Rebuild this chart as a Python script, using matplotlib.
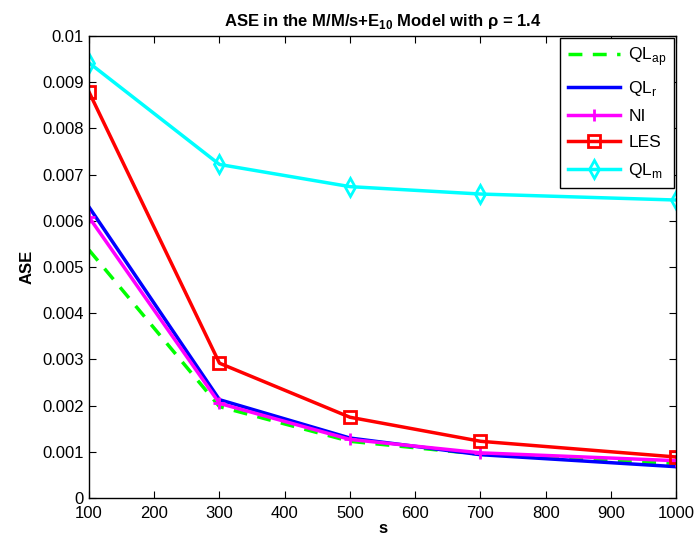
import matplotlib
matplotlib.use("Agg")
import matplotlib.pyplot as plt

plt.rcParams['font.family'] = ['Liberation Sans', 'DejaVu Sans']
plt.rcParams['mathtext.fontset'] = 'custom'
plt.rcParams['mathtext.rm'] = 'Liberation Sans'

s = [100, 300, 500, 700, 1000]
ql_ap = [0.00537, 0.00198, 0.00123, 0.00095, 0.00075]
ql_r = [0.00630, 0.00213, 0.00130, 0.00094, 0.00068]
ni = [0.00608, 0.00205, 0.00127, 0.00098, 0.00081]
les = [0.00879, 0.00292, 0.00175, 0.00123, 0.00089]
ql_m = [0.00942, 0.00722, 0.00674, 0.00658, 0.00645]

fig = plt.figure(figsize=(6.95, 5.45), dpi=100)
ax = fig.add_axes([0.128, 0.086, 0.845, 0.848])

ax.plot(s, ql_ap, color='#00ff00', ls='--', lw=2.5, dashes=(4, 3), label=r'QL$_{\mathregular{ap}}$')
ax.plot(s, ql_r, color='#0000ff', lw=2.5, label=r'QL$_{\mathregular{r}}$')
ax.plot(s, ni, color='#ff00ff', lw=2.5, marker='+', ms=9, mew=2, label='NI')
ax.plot(s, les, color='#ff0000', lw=2.5, marker='s', ms=8, mfc='none', mew=2, label='LES')
ax.plot(s, ql_m, color='#00ffff', lw=2.5, marker='d', ms=9, mfc='none', mew=2, label=r'QL$_{\mathregular{m}}$')

ax.set_xlim(100, 1000)
ax.set_ylim(0, 0.01)
ax.set_xticks(range(100, 1001, 100))
ax.set_yticks([i * 0.001 for i in range(11)])
ax.set_yticklabels(['0'] + ['%g' % (i * 0.001) for i in range(1, 11)])
ax.tick_params(direction='in', labelsize=12, top=True, right=True, length=5)
ax.tick_params(axis='x', pad=6)
for sp in ax.spines.values():
    sp.set_linewidth(1.0)

ax.set_xlabel('s', fontsize=12, fontweight='bold', labelpad=0)
ax.set_ylabel('ASE', fontsize=12, fontweight='bold', labelpad=6)
ax.set_title(r'ASE in the M/M/s+E$_{\mathregular{10}}$ Model with $\mathregular{\rho}$ = 1.4',
             fontsize=12, fontweight='bold', pad=7)

leg = ax.legend(loc='upper right', fontsize=12.5, handlelength=3.0, fancybox=False,
                framealpha=1, edgecolor='black', borderaxespad=0.1, labelspacing=0.62,
                borderpad=0.45, handletextpad=0.5)
leg.get_frame().set_linewidth(1.0)

fig.savefig('out.png', dpi=100)
